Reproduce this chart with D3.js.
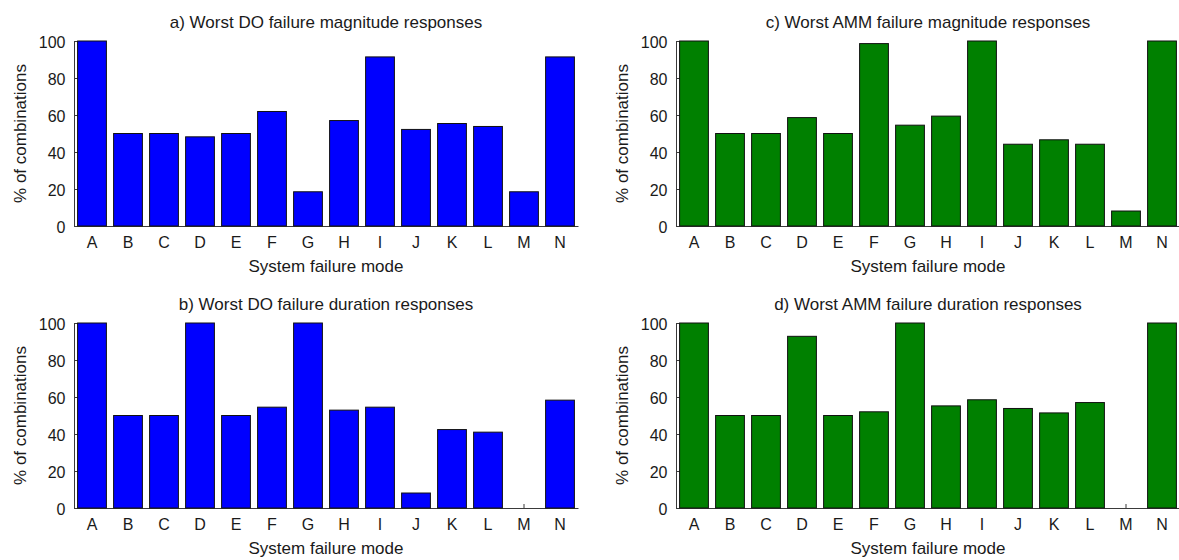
<!DOCTYPE html>
<html>
<head>
<meta charset="utf-8">
<script src="https://cdn.jsdelivr.net/npm/d3@7/dist/d3.min.js"></script>
<style>
  html, body { margin: 0; padding: 0; background: #fff; }
  svg { display: block; }
  text { font-family: "Liberation Sans", Arial, sans-serif; fill: #1a1a1a; }
</style>
</head>
<body>
<svg id="chart" width="1179" height="560"></svg>
<script>
// Failure modes on the x axis
const categories = ["A","B","C","D","E","F","G","H","I","J","K","L","M","N"];

// Percentage of combinations per failure mode
const doMagnitude  = [100, 50, 50, 48.2, 50, 61.9, 18.5, 57.0, 91.4, 52.2, 55.4, 53.8, 18.5, 91.4];
const doDuration   = [100, 50, 50, 100, 50, 54.5, 100, 52.9, 54.5, 8.1, 42.4, 41.0, 0, 58.3];
const ammMagnitude = [100, 50, 50, 58.6, 50, 98.6, 54.5, 59.4, 100, 44.2, 46.6, 44.2, 8.1, 100];
const ammDuration  = [100, 50, 50, 92.8, 50, 52.0, 100, 55.2, 58.5, 53.8, 51.4, 57.0, 0, 100];

const yTicks = [0, 20, 40, 60, 80, 100];

const panels = [
  { title: "a) Worst DO failure magnitude responses",  values: doMagnitude,  color: "#0000ff", left: 74,  top: 41 },
  { title: "b) Worst DO failure duration responses",   values: doDuration,   color: "#0000ff", left: 74,  top: 323 },
  { title: "c) Worst AMM failure magnitude responses", values: ammMagnitude, color: "#008000", left: 676, top: 41 },
  { title: "d) Worst AMM failure duration responses",  values: ammDuration,  color: "#008000", left: 676, top: 323 }
];

const W = 504, H = 185;
const svg = d3.select("#chart");

const x = d3.scaleBand().domain(categories).range([0, W]).paddingInner(0.2).paddingOuter(0.1);
const y = d3.scaleLinear().domain([0, 100]).range([H, 0]);

panels.forEach(p => {
  const g = svg.append("g").attr("transform", `translate(${p.left},${p.top})`);

  // axes first so the bars sit over the inward ticks
  const yAxis = g.append("g")
    .call(d3.axisLeft(y).tickValues(yTicks).tickSizeInner(-4).tickSizeOuter(0).tickPadding(8.5));
  const xAxis = g.append("g").attr("transform", `translate(0,${H})`)
    .call(d3.axisBottom(x).tickSizeInner(-4).tickSizeOuter(0).tickPadding(10.9));

  [yAxis, xAxis].forEach(a => {
    a.selectAll("path.domain").attr("stroke", "#3a3a3a");
    a.selectAll(".tick line").attr("stroke", "#3a3a3a");
    a.selectAll("text").style("font-size", "16px").attr("fill", "#1a1a1a");
  });
  yAxis.selectAll("text").attr("dy", "0.4em");

  g.selectAll("rect.bar")
    .data(p.values)
    .join("rect")
    .attr("class", "bar")
    .attr("x", (d, i) => x(categories[i]))
    .attr("y", d => y(d))
    .attr("width", x.bandwidth())
    .attr("height", d => H - y(d))
    .attr("fill", p.color)
    .attr("stroke", "#111")
    .attr("stroke-width", 1);

  g.append("text")
    .attr("x", W / 2).attr("y", -13.5)
    .attr("text-anchor", "middle")
    .style("font-size", "17px")
    .text(p.title);

  g.append("text")
    .attr("x", W / 2).attr("y", H + 46.3)
    .attr("text-anchor", "middle")
    .style("font-size", "17px")
    .text("System failure mode");

  g.append("text")
    .attr("transform", `translate(-48.5,${H / 2}) rotate(-90)`)
    .attr("text-anchor", "middle")
    .style("font-size", "17px")
    .text("% of combinations");
});
</script>
</body>
</html>
